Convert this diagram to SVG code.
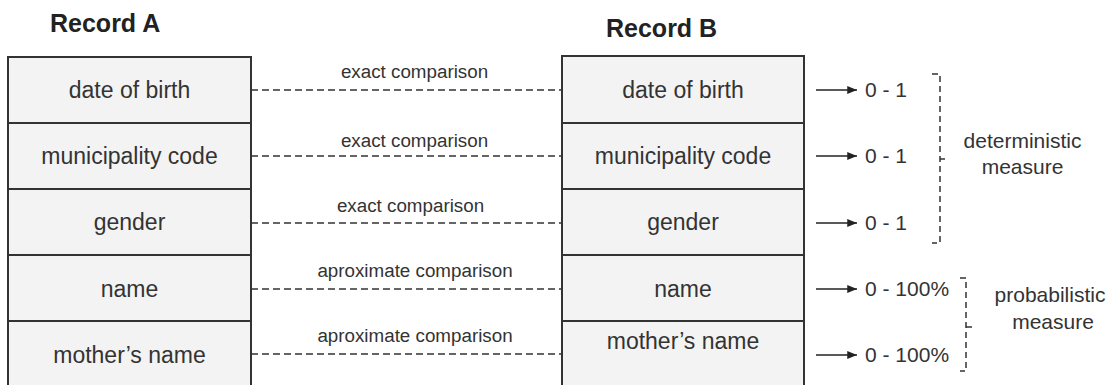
<svg xmlns="http://www.w3.org/2000/svg" width="1114" height="385" viewBox="0 0 1114 385">
<style>
  .title { font-family: "Liberation Sans", Arial, sans-serif; font-weight: bold; font-size: 25px; fill: #222; }
  .cell { fill: #f3f3f3; stroke: #333; stroke-width: 2; }
  .ctext { font-family: "Liberation Sans", Arial, sans-serif; font-size: 23px; fill: #333; text-anchor: middle; }
  .lbl { font-family: "Liberation Sans", Arial, sans-serif; font-size: 18.8px; fill: #333; text-anchor: middle; }
  .dash { stroke: #333; stroke-width: 1.5; stroke-dasharray: 7 4; fill: none; }
  .arr { stroke: #222; stroke-width: 1.5; fill: none; marker-end: url(#ah); }
  .val { font-family: "Liberation Sans", Arial, sans-serif; font-size: 21px; fill: #333; }
  .brk { stroke: #333; stroke-width: 1.5; stroke-dasharray: 6 4; fill: none; }
  .meas { font-family: "Liberation Sans", Arial, sans-serif; font-size: 21px; fill: #333; text-anchor: middle; }
</style>
<defs>
  <marker id="ah" viewBox="0 0 10 10" refX="10" refY="5" markerWidth="6.5" markerHeight="6.5" markerUnits="strokeWidth" orient="auto">
    <path d="M0,1 L10,5 L0,9 z" fill="#222"/>
  </marker>
</defs>
<rect width="1114" height="385" fill="#fff"/>

<text class="title" x="50" y="32">Record A</text>
<text class="title" x="606" y="37">Record B</text>

<g id="recordA">
  <g id="a-dob"><rect class="cell" x="8" y="57" width="243" height="66"/><text class="ctext" x="129.5" y="98">date of birth</text></g>
  <g id="a-muni"><rect class="cell" x="8" y="123" width="243" height="66"/><text class="ctext" x="129.5" y="164">municipality code</text></g>
  <g id="a-gender"><rect class="cell" x="8" y="189" width="243" height="66"/><text class="ctext" x="129.5" y="230">gender</text></g>
  <g id="a-name"><rect class="cell" x="8" y="255" width="243" height="66"/><text class="ctext" x="129.5" y="297">name</text></g>
  <g id="a-mother"><rect class="cell" x="8" y="321" width="243" height="70"/><text class="ctext" x="129.5" y="363">mother’s name</text></g>
</g>

<g id="recordB">
  <g id="b-dob"><rect class="cell" x="562" y="56" width="242" height="67"/><text class="ctext" x="683" y="98">date of birth</text></g>
  <g id="b-muni"><rect class="cell" x="562" y="123" width="242" height="66"/><text class="ctext" x="683" y="164">municipality code</text></g>
  <g id="b-gender"><rect class="cell" x="562" y="189" width="242" height="66"/><text class="ctext" x="683" y="230">gender</text></g>
  <g id="b-name"><rect class="cell" x="562" y="255" width="242" height="66"/><text class="ctext" x="683" y="297">name</text></g>
  <g id="b-mother"><rect class="cell" x="562" y="321" width="242" height="70"/><text class="ctext" x="683" y="349">mother’s name</text></g>
</g>

<g id="connectors">
  <line class="dash" x1="251" y1="90" x2="562" y2="90"/>
  <line class="dash" x1="251" y1="156" x2="562" y2="156"/>
  <line class="dash" x1="251" y1="223" x2="562" y2="223"/>
  <line class="dash" x1="251" y1="289" x2="562" y2="289"/>
  <line class="dash" x1="251" y1="354" x2="562" y2="354"/>
  <text class="lbl" x="414.5" y="78">exact comparison</text>
  <text class="lbl" x="414.5" y="147">exact comparison</text>
  <text class="lbl" x="410.5" y="212">exact comparison</text>
  <text class="lbl" x="415" y="277">aproximate comparison</text>
  <text class="lbl" x="415" y="342">aproximate comparison</text>

  <line class="arr" x1="816" y1="90" x2="857" y2="90"/>
  <line class="arr" x1="816" y1="156" x2="857" y2="156"/>
  <line class="arr" x1="816" y1="223" x2="857" y2="223"/>
  <line class="arr" x1="816" y1="289" x2="857" y2="289"/>
  <line class="arr" x1="816" y1="355" x2="857" y2="355"/>

  <path class="brk" d="M932,74 L940,74 L940,243 L932,243"/>
  <line x1="940" y1="159" x2="945" y2="159" stroke="#333" stroke-width="1.5"/>
  <path class="brk" d="M960,278 L966,278 L966,371 L960,371"/>
  <line x1="966" y1="327" x2="972" y2="327" stroke="#333" stroke-width="1.5"/>
</g>

<g id="values">
  <text class="val" x="865" y="97">0 - 1</text>
  <text class="val" x="865" y="163">0 - 1</text>
  <text class="val" x="865" y="230">0 - 1</text>
  <text class="val" x="865" y="296">0 - 100%</text>
  <text class="val" x="865" y="362">0 - 100%</text>
</g>

<g id="det-measure">
  <text class="meas" x="1022.5" y="148">deterministic</text>
  <text class="meas" x="1022.5" y="174">measure</text>
</g>
<g id="prob-measure">
  <text class="meas" x="1050" y="302">probabilistic</text>
  <text class="meas" x="1053" y="329">measure</text>
</g>
</svg>
